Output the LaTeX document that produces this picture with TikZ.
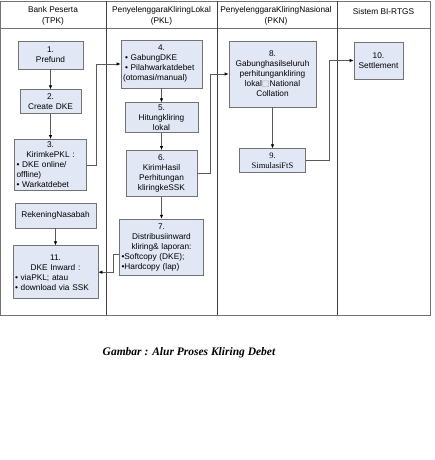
\documentclass[tikz,border=0pt]{standalone}
\usepackage{fontspec}
\setmainfont{Liberation Sans}
\newfontfamily\serifcap{Liberation Serif}
\newfontfamily\symfont{DejaVu Sans}
\usetikzlibrary{arrows.meta,positioning}
\definecolor{kLine}{RGB}{90,90,90}
\definecolor{kBox}{RGB}{226,231,245}
\definecolor{kFrame}{RGB}{115,115,115}

\begin{document}
\begin{tikzpicture}[x=1pt,y=-1pt,
	stepbox/.style={
		draw=kFrame, fill=kBox, line width=0.7pt, inner xsep=2pt, inner ysep=1pt,
		font=\fontsize{8.3}{10}\selectfont
	},
	lanehead/.style={font=\fontsize{8.3}{11}\selectfont, align=center},
	flow/.style={draw=kLine, line width=0.7pt, -{Latex[length=4pt,width=3.5pt,color=black]}}
	]
	\useasboundingbox (0,0) rectangle (434,460);

	% lanes
	\draw[kFrame, line width=0.7pt] (0,1) rectangle (430,315);
	\draw[kFrame, line width=0.7pt] (0,28) -- (430,28);
	\foreach \x in {106,217,337}
	\draw[black!75, line width=0.7pt] (\x,1) -- (\x,315);

	\node[lanehead] (hTPK) at (53,15.5) {Bank Peserta\\(TPK)};
	\node[lanehead] (hPKL) at (161.5,15.5) {PenyelenggaraKliringLokal\\(PKL)};
	\node[lanehead] (hPKN) at (276,15.5) {PenyelenggaraKliringNasional\\(PKN)};
	\node[lanehead] (hRTGS) at (383.5,12) {Sistem BI-RTGS};

	% Bank Peserta
	\node[stepbox, align=center, text width=61pt, minimum height=28pt] (n1) at (50.5,55) {1.\\Prefund};
	\node[stepbox, align=center, text width=57pt, minimum height=24pt, below=20pt of n1] (n2) {2.\\Create DKE};
	\node[stepbox, text width=68pt, minimum height=51pt, below=25pt of n2] (n3)
	{\centering 3.\\KirimkePKL :\par\raggedright • DKE online/\\offline)\\• Warkatdebet};
	\node[stepbox, align=center, text width=77pt, minimum height=25pt] (nRek) at (55.5,215.5) {RekeningNasabah};
	\node[stepbox, text width=81pt, minimum height=53pt, below=17pt of nRek] (n11)
	{\centering 11.\\DKE Inward :\par\raggedright • viaPKL; atau\\• download via SSK};

	% PKL
	\node[stepbox, text width=77pt, minimum height=48pt] (n4) at (161.5,64)
	{\centering 4.\par\raggedright \hspace*{2pt}• GabungDKE\\\hspace*{2pt}• Pilahwarkatdebet\\(otomasi/manual)};
	\node[stepbox, align=center, text width=69pt, minimum height=30pt, below=14pt of n4] (n5) {5.\\Hitungkliring\\lokal};
	\node[stepbox, align=center, text width=67pt, minimum height=46pt, below=17pt of n5] (n6) {6.\\KirimHasil\\Perhitungan\\kliringkeSSK};
	\node[stepbox, text width=80pt, minimum height=56pt, below=22pt of n6] (n7)
	{\centering 7.\\Distribusiinward\\kliring\& laporan:\par\raggedright •Softcopy (DKE);\\•Hardcopy (lap)};

	% PKN
	\node[stepbox, align=center, text width=83pt, minimum height=66pt] (n8) at (272.5,74)
	{8.\\Gabunghasilseluruh\\perhitungankliring\\lokal{\color{gray!70}\symfont □}National\\Collation};
	\node[stepbox, align=center, text width=62pt, minimum height=24pt, below=41pt of n8,
		font=\serifcap\fontsize{8.5}{10}\selectfont] (n9) {9.\\SimulasiFtS};

	% BI-RTGS
	\node[stepbox, align=center, text width=45pt, minimum height=37pt] (n10) at (378.5,60.5) {10.\\Settlement};

	% flows
	\draw[flow] (n1) -- (n2);
	\draw[flow] (n2) -- (n3);
	\draw[flow] (n3.east) -- ++(9,0) |- (n4.west);
	\draw[flow] (n4) -- (n5);
	\draw[flow] (n5) -- (n6);
	\draw[flow] (n6.east) -- ++(13,0) |- (n8.west);
	\draw[flow] (n6) -- (n7);
	\draw[flow] (nRek) -- (n11);
	\draw[flow] ([yshift=-7pt]n7.west) -- ++(-6,0) |- (n11.east);
	\draw[flow] (n8) -- (n9);
	\draw[flow] (n9.east) -- ++(23,0) |- (n10.west);

	\node[font=\serifcap\bfseries\itshape\fontsize{11.5}{13}\selectfont] (cap) at (189,353)
	{Gambar : Alur Proses Kliring Debet};
\end{tikzpicture}
\end{document}
